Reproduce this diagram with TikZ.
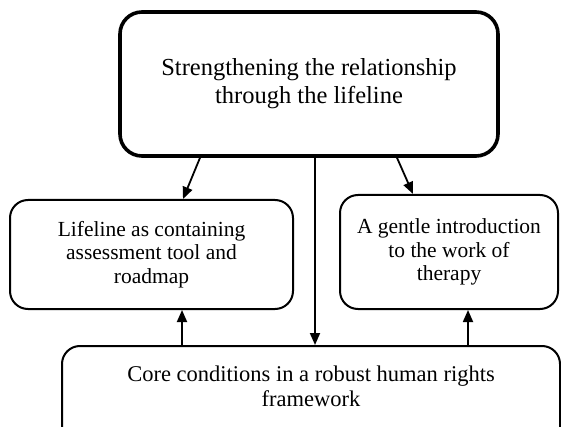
\documentclass[tikz,border=0pt]{standalone}
\usepackage{fontspec}
\setmainfont{Liberation Serif}
\usetikzlibrary{arrows.meta}
\begin{document}
\begin{tikzpicture}[x=1pt,y=1pt,
  bigbox/.style={draw, line width=3.6pt, rounded corners=22pt, align=center,
    minimum width=378pt, minimum height=144pt, font=\fontsize{24.5}{28}\selectfont},
  smallbox/.style={draw, line width=2pt, rounded corners=18pt, align=center,
    font=\fontsize{21.5}{23.5}\selectfont},
  corebox/.style={draw, line width=2pt, rounded corners=18pt,
    minimum width=498pt, minimum height=104pt},
  coretext/.style={align=center, font=\fontsize{22.5}{25}\selectfont},
  arr/.style={line width=1.8pt, -{Triangle[length=12pt,width=10pt]}}
]
\useasboundingbox (0,-427) rectangle (561,0);
\node[bigbox] (top) at (309,-84) {Strengthening the relationship\\through the lifeline};
\node[smallbox, minimum width=283pt, minimum height=109pt] (left) at (151.5,-254.5)
  {Lifeline as containing\\assessment tool and\\roadmap};
\node[smallbox, minimum width=218pt, minimum height=114pt] (right) at (449,-252)
  {A gentle introduction\\to the work of\\therapy};
\node[corebox] (core) at (311,-398) {};
\node[coretext] (coret) at (311,-386) {Core conditions in a robust human rights\\framework};
\draw[arr] ([xshift=-109pt]top.south) -- ([xshift=31.5pt]left.north);
\draw[arr] ([xshift=88pt]top.south) -- ([xshift=-36pt]right.north);
\draw[arr] ([xshift=6pt]top.south) -- ([xshift=6pt]top.south |- core.north);
\draw[arr] ([xshift=30.5pt]left.south |- core.north) -- ([xshift=30.5pt]left.south);
\draw[arr] ([xshift=19pt]right.south |- core.north) -- ([xshift=19pt]right.south);
\end{tikzpicture}
\end{document}
